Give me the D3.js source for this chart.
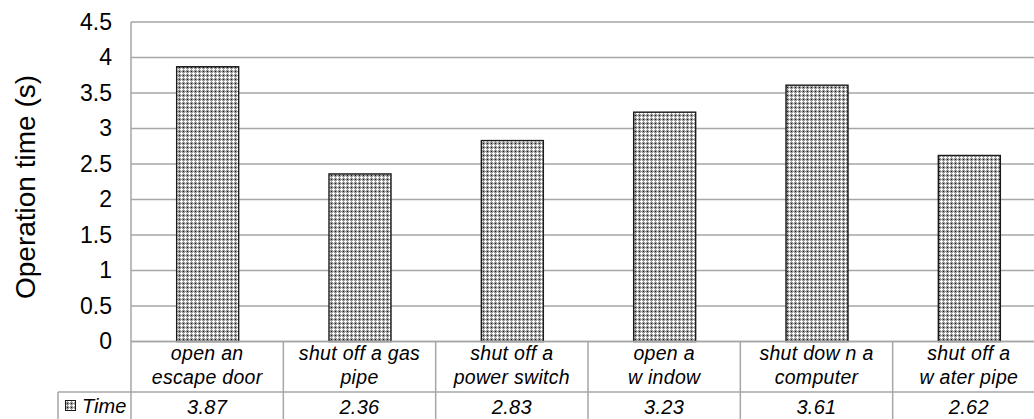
<!DOCTYPE html>
<html>
<head>
<meta charset="utf-8">
<title>Operation time</title>
<script src="https://d3js.org/d3.v7.min.js"></script>
<style>
    body { margin: 0; background: #fff; }
    svg { font-family: "Liberation Sans", Arial, sans-serif; }
</style>
</head>
<body>
<script>
var categories = [
    ["open an", "escape door"],
    ["shut off a gas", "pipe"],
    ["shut off a", "power switch"],
    ["open a", "w indow"],
    ["shut dow n a", "computer"],
    ["shut off a", "w ater pipe"]
];
var times = [3.87, 2.36, 2.83, 3.23, 3.61, 2.62];
var yTicks = [0, 0.5, 1, 1.5, 2, 2.5, 3, 3.5, 4, 4.5];
var tickLabels = ["0", "0.5", "1", "1.5", "2", "2.5", "3", "3.5", "4", "4.5"];
var seriesName = "Time";

var W = 1034, H = 419;
var plotLeft = 131, plotRight = 1045, plotTop = 22, plotBottom = 341.5;
var row1 = 392, tableLeft = 58;

var svg = d3.select("body").append("svg")
    .attr("width", W)
    .attr("height", H);

// dotted crosshatch fill like the original
var defs = svg.append("defs");
var pat = defs.append("pattern")
    .attr("id", "hatch")
    .attr("patternUnits", "userSpaceOnUse")
    .attr("width", 4)
    .attr("height", 4);
pat.append("rect").attr("width", 4).attr("height", 4).attr("fill", "#9a9a9a");
pat.append("rect").attr("x", 0).attr("y", 1).attr("width", 3).attr("height", 1).attr("fill", "#ffffff");
pat.append("rect").attr("x", 1).attr("y", 0).attr("width", 1).attr("height", 3).attr("fill", "#ffffff");
pat.append("rect").attr("x", 3).attr("y", 3).attr("width", 1).attr("height", 1).attr("fill", "#1a1a1a");

var x = d3.scaleBand()
    .domain(d3.range(categories.length))
    .range([plotLeft, plotRight])
    .paddingInner(0)
    .paddingOuter(0);

var y = d3.scaleLinear()
    .domain([0, 4.5])
    .range([plotBottom, plotTop]);

// gridlines
svg.append("g").selectAll("line")
    .data(yTicks)
    .enter().append("line")
    .attr("x1", plotLeft)
    .attr("x2", W)
    .attr("y1", function (d) { return y(d); })
    .attr("y2", function (d) { return y(d); })
    .attr("stroke", "#a6a6a6")
    .attr("stroke-width", 1.5);

// y axis labels
var yAxis = d3.axisLeft(y)
    .tickValues(yTicks)
    .tickFormat(function (d, i) { return tickLabels[i]; })
    .tickSize(0)
    .tickPadding(19);
var ya = svg.append("g")
    .attr("transform", "translate(" + plotLeft + ",0)")
    .call(yAxis);
ya.select(".domain").remove();
ya.selectAll("text")
    .attr("font-size", "23px")
    .attr("font-family", "Liberation Sans, Arial, sans-serif")
    .attr("fill", "#000");

// plot left border
svg.append("line")
    .attr("x1", plotLeft).attr("x2", plotLeft)
    .attr("y1", plotTop).attr("y2", H)
    .attr("stroke", "#a6a6a6")
    .attr("stroke-width", 1.5);

// bars
var barW = 62;
svg.append("g").selectAll("rect")
    .data(times)
    .enter().append("rect")
    .attr("x", function (d, i) { return x(i) + x.bandwidth() / 2 - barW / 2 + 0.5; })
    .attr("y", function (d) { return y(d); })
    .attr("width", barW)
    .attr("height", function (d) { return y(0) - y(d); })
    .attr("fill", "url(#hatch)")
    .attr("stroke", "#1a1a1a")
    .attr("stroke-width", 1.4);

// table lines
var tbl = svg.append("g").attr("stroke", "#a6a6a6").attr("stroke-width", 1.5);
tbl.append("line").attr("x1", plotLeft).attr("x2", W).attr("y1", plotBottom).attr("y2", plotBottom);
tbl.append("line").attr("x1", tableLeft).attr("x2", W).attr("y1", row1).attr("y2", row1);
tbl.append("line").attr("x1", tableLeft).attr("x2", tableLeft).attr("y1", row1).attr("y2", H);
tbl.selectAll(".sep")
    .data(d3.range(1, categories.length))
    .enter().append("line")
    .attr("x1", function (d) { return x(d); })
    .attr("x2", function (d) { return x(d); })
    .attr("y1", plotBottom)
    .attr("y2", H);

// category labels
var cat = svg.append("g").selectAll("text")
    .data(categories)
    .enter().append("text")
    .attr("x", function (d, i) { return x(i) + x.bandwidth() / 2; })
    .attr("y", 360)
    .attr("text-anchor", "middle")
    .attr("font-size", "19.5px")
    .attr("letter-spacing", "0.3px")
    .attr("font-style", "italic")
    .attr("fill", "#000");
cat.append("tspan")
    .attr("x", function (d, i) { return x(i) + x.bandwidth() / 2; })
    .text(function (d) { return d[0]; });
cat.append("tspan")
    .attr("x", function (d, i) { return x(i) + x.bandwidth() / 2; })
    .attr("dy", 24)
    .text(function (d) { return d[1]; });

// values row
svg.append("g").selectAll("text")
    .data(times)
    .enter().append("text")
    .attr("x", function (d, i) { return x(i) + x.bandwidth() / 2; })
    .attr("y", 414)
    .attr("text-anchor", "middle")
    .attr("font-size", "20px")
    .attr("letter-spacing", "0.3px")
    .attr("font-style", "italic")
    .attr("fill", "#000")
    .text(function (d) { return d.toFixed(2); });

// legend key
svg.append("rect")
    .attr("x", 65.5).attr("y", 400.5)
    .attr("width", 10).attr("height", 10)
    .attr("fill", "url(#hatch)")
    .attr("stroke", "#1a1a1a")
    .attr("stroke-width", 1);
svg.append("text")
    .attr("x", 82)
    .attr("y", 413)
    .attr("font-size", "20px")
    .attr("font-style", "italic")
    .attr("fill", "#000")
    .text(seriesName);

// y title
svg.append("text")
    .attr("transform", "translate(35,187) rotate(-90)")
    .attr("text-anchor", "middle")
    .attr("font-size", "28px")
    .attr("fill", "#000")
    .text("Operation time (s)");
</script>
</body>
</html>
